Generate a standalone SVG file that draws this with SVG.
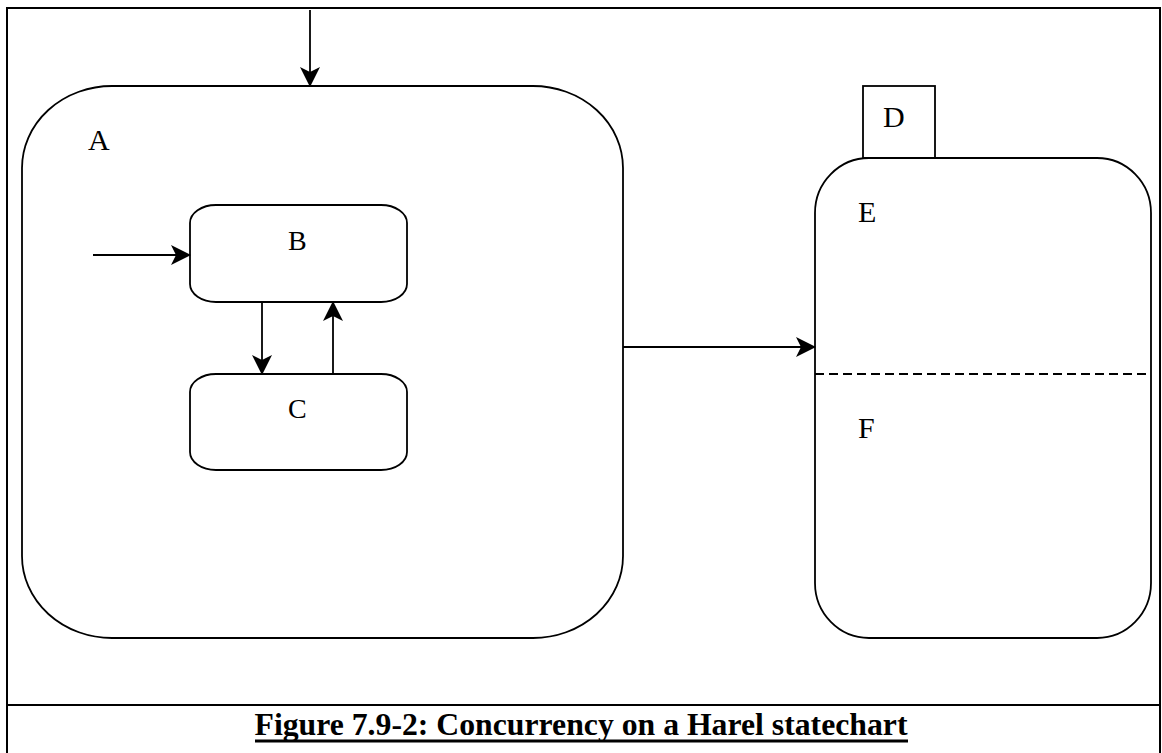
<svg xmlns="http://www.w3.org/2000/svg" width="1162" height="753" viewBox="0 0 1162 753">
<style>
.shape{fill:none;stroke:#000;stroke-width:1.8}
.lbl{font-family:"Liberation Serif","Times New Roman",serif;font-size:30px;fill:#000}
.lbl2{font-family:"Liberation Serif","Times New Roman",serif;font-size:28px;fill:#000}
.conn{fill:none;stroke:#000;stroke-width:1.8;marker-end:url(#ah)}
.cap{font-family:"Liberation Serif","Times New Roman",serif;font-size:31px;font-weight:bold;fill:#000}
</style>
<defs>
<marker id="ah" markerUnits="userSpaceOnUse" markerWidth="20" markerHeight="20" viewBox="0 0 20 20" refX="19" refY="10" orient="auto">
<path d="M0,0 L20,10 L0,20 L5,10 Z" fill="#000"/>
</marker>
</defs>
<rect width="1162" height="753" fill="#fff"/>
<g id="frame">
<rect x="7" y="8" width="1153" height="780" fill="none" stroke="#000" stroke-width="2"/>
<line x1="7" y1="705" x2="1160" y2="705" stroke="#000" stroke-width="2"/>
</g>
<g id="A">
<rect class="shape" x="22" y="86" width="601" height="552" rx="90" ry="82"/>
<text class="lbl" x="88" y="150">A</text>
</g>
<g id="B">
<rect class="shape" x="190" y="205" width="217" height="97" rx="26" ry="18"/>
<text class="lbl2" x="288" y="250">B</text>
</g>
<g id="C">
<rect class="shape" x="190" y="374" width="217" height="96" rx="26" ry="18"/>
<text class="lbl2" x="288" y="418">C</text>
</g>
<g id="D">
<rect class="shape" x="863" y="86" width="72" height="72"/>
<text class="lbl" x="883" y="127">D</text>
</g>
<g id="EF">
<rect class="shape" x="815" y="158" width="336" height="480" rx="54" ry="55"/>
<line x1="815" y1="374" x2="1147" y2="374" stroke="#000" stroke-width="1.8" stroke-dasharray="9,5"/>
<text class="lbl" x="858" y="222">E</text>
<text class="lbl" x="858" y="438">F</text>
</g>
<g id="connectors">
<line class="conn" x1="310" y1="10" x2="310" y2="86"/>
<line class="conn" x1="93" y1="255" x2="190" y2="255"/>
<line class="conn" x1="262" y1="302" x2="262" y2="374"/>
<line class="conn" x1="333" y1="374" x2="333" y2="302"/>
<line class="conn" x1="623" y1="347" x2="815" y2="347"/>
</g>
<g id="caption">
<text class="cap" x="581" y="735" text-anchor="middle" textLength="653" lengthAdjust="spacingAndGlyphs">Figure 7.9-2: Concurrency on a Harel statechart</text>
<line x1="255" y1="741" x2="908" y2="741" stroke="#000" stroke-width="3"/>
</g>
</svg>
